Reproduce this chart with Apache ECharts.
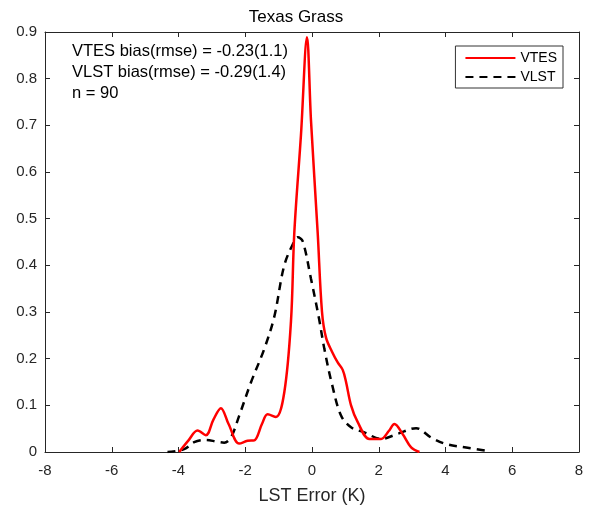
<!DOCTYPE html>
<html>
<head>
<meta charset="utf-8">
<script src="https://cdn.jsdelivr.net/npm/echarts@6/dist/echarts.min.js"></script>
<style>html,body{margin:0;padding:0;background:#fff}#c{width:592px;height:510px}</style>
</head>
<body>
<div id="c"></div>
<script>
var titleText = 'Texas Grass';
var xLabel = 'LST Error (K)';
var seriesNames = ['VTES', 'VLST'];
var annotations = ['VTES bias(rmse) = -0.23(1.1)', 'VLST bias(rmse) = -0.29(1.4)', 'n = 90'];

var vtes = [
  [-3.98, 0], [-3.7, 0.025], [-3.43, 0.046], [-3.18, 0.036], [-2.95, 0.07], [-2.73, 0.094],
  [-2.5, 0.06], [-2.18, 0.018], [-1.93, 0.024], [-1.73, 0.025], [-1.5, 0.06], [-1.33, 0.081],
  [-1.08, 0.075], [-0.83, 0.128], [-0.63, 0.28], [-0.53, 0.47], [-0.33, 0.68], [-0.15, 0.889],
  [-0.03, 0.71], [0.17, 0.47], [0.3, 0.3], [0.42, 0.245], [0.6, 0.215], [0.77, 0.192],
  [0.92, 0.176], [1.02, 0.15], [1.17, 0.1], [1.37, 0.064], [1.72, 0.028], [2.07, 0.028],
  [2.3, 0.045], [2.47, 0.06], [2.72, 0.038], [2.97, 0.01], [3.22, 0]
];
var vlst = [
  [-4.33, 0], [-3.83, 0.006], [-3.53, 0.021], [-3.18, 0.026], [-2.85, 0.022], [-2.63, 0.02],
  [-2.43, 0.031], [-2.18, 0.078], [-1.83, 0.149], [-1.43, 0.221], [-1.13, 0.29], [-0.83, 0.4],
  [-0.53, 0.452], [-0.43, 0.46], [-0.28, 0.452], [-0.03, 0.371], [0.2, 0.29], [0.37, 0.221],
  [0.6, 0.145], [0.87, 0.078], [1.17, 0.053], [1.57, 0.042], [2.07, 0.028], [2.57, 0.039],
  [3.12, 0.051], [3.57, 0.031], [4.02, 0.017], [4.57, 0.01], [5.27, 0.002]
];

var font = 'Liberation Sans, Arial, Helvetica, sans-serif';
var axisCol = '#262626';
var textCol = '#262626';

var chart = echarts.init(document.getElementById('c'), null, {renderer: 'canvas'});
var gridLeft = 45, gridRight = 13, gridTop = 32, gridBottom = 57;

var option = {
  animation: false,
  backgroundColor: '#fff',
  title: {
    text: titleText, left: 'center', top: 4,
    textStyle: {fontFamily: font, fontSize: 17, fontWeight: 'normal', color: '#000'}
  },
  grid: {left: gridLeft, right: gridRight, top: gridTop, bottom: gridBottom, containLabel: false},
  legend: {
    data: seriesNames, orient: 'vertical', right: 29, top: 46,
    itemWidth: 50, itemHeight: 14, itemGap: 5,
    padding: [5, 6, 4, 9],
    borderColor: '#333', borderWidth: 1, backgroundColor: '#fff',
    itemStyle: {opacity: 0},
    textStyle: {fontFamily: font, fontSize: 14, color: '#000'}
  },
  xAxis: [{
    type: 'value', min: -8, max: 8, interval: 2,
    name: xLabel, nameLocation: 'middle', nameGap: 35,
    nameTextStyle: {fontFamily: font, fontSize: 18, color: textCol},
    axisLine: {show: true, onZero: false, lineStyle: {color: axisCol, width: 1}},
    axisTick: {show: true, inside: true, length: 5, lineStyle: {color: axisCol}},
    axisLabel: {fontFamily: font, fontSize: 15, color: textCol, margin: 11},
    splitLine: {show: false}
  }, {
    type: 'value', min: -8, max: 8, interval: 2, position: 'top',
    axisLine: {show: true, onZero: false, lineStyle: {color: axisCol, width: 1}},
    axisTick: {show: true, inside: true, length: 5, lineStyle: {color: axisCol}},
    axisLabel: {show: false}, splitLine: {show: false}
  }],
  yAxis: [{
    type: 'value', min: 0, max: 0.9, interval: 0.1,
    axisLine: {show: true, onZero: false, lineStyle: {color: axisCol, width: 1}},
    axisTick: {show: true, inside: true, length: 5, lineStyle: {color: axisCol}},
    axisLabel: {fontFamily: font, fontSize: 15, color: textCol, margin: 8,
      formatter: function (v) { return v === 0 ? '0' : (Math.round(v * 10) / 10).toString(); }},
    splitLine: {show: false}
  }, {
    type: 'value', min: 0, max: 0.9, interval: 0.1, position: 'right',
    axisLine: {show: true, onZero: false, lineStyle: {color: axisCol, width: 1}},
    axisTick: {show: true, inside: true, length: 5, lineStyle: {color: axisCol}},
    axisLabel: {show: false}, splitLine: {show: false}
  }],
  graphic: annotations.map(function (t, i) {
    return {
      type: 'text', left: 72, top: 43 + i * 21,
      style: {text: t, font: '16.5px ' + font, fill: '#000'}
    };
  }),
  series: [{
    name: seriesNames[0], type: 'line', data: vtes, smooth: 0.35, symbol: 'none',
    lineStyle: {color: '#ff0000', width: 2.5}, itemStyle: {color: '#ff0000'}, z: 3
  }, {
    name: seriesNames[1], type: 'line', data: vlst, smooth: 0.35, symbol: 'none',
    lineStyle: {color: '#000', width: 2.5, type: [8, 6]}, itemStyle: {color: '#000'}, z: 2
  }]
};
chart.setOption(option);
</script>
</body>
</html>
